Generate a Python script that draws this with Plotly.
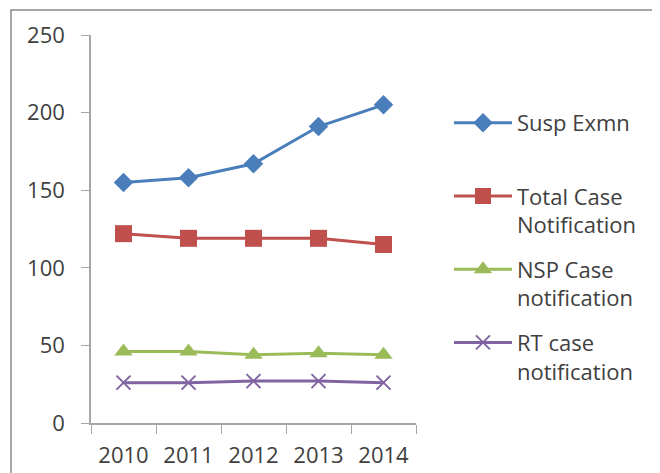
import plotly.graph_objects as go

years = ["2010", "2011", "2012", "2013", "2014"]
susp_exmn = [155, 158, 167, 191, 205]
total_case = [122, 119, 119, 119, 115]
nsp_case = [46, 46, 44, 45, 44]
rt_case = [26, 26, 27, 27, 26]
y_ticks = [0, 50, 100, 150, 200, 250]

series = [
    ("Susp Exmn<br> ", susp_exmn, "#4A7EBB", "diamond", 15),
    ("Total Case<br>Notification", total_case, "#C0504D", "square", 17),
    ("NSP Case<br>notification", nsp_case, "#9BBB59", "triangle-up", 16),
    ("RT case<br>notification", rt_case, "#8064A2", "x-thin", 14),
]

fig = go.Figure()
for i, (name, vals, col, sym, sz) in enumerate(series):
    marker = dict(symbol=sym, size=sz, color=col)
    if sym == "x-thin":
        marker["line"] = dict(color=col, width=2)
    fig.add_trace(go.Scatter(
        x=years, y=vals, name=name, mode="lines+markers",
        line=dict(color=col, width=3), marker=marker,
        legendgroup=str(i),
    ))

# page has an 8px body margin; figure is sized to fit the window
W, H = 652, 465
L, T = 83, 27
pw, ph = 325, 388
R, B = W - L - pw, H - T - ph


def px(x):  # page x -> paper
    return (x - 8 - L) / pw


def py(y):  # page y -> paper
    return (8 + T + ph - y) / ph


fig.add_shape(type="rect", xref="paper", yref="paper",
              x0=px(11), x1=px(700), y0=py(500), y1=py(10),
              line=dict(color="#8a8a8a", width=1.5), layer="below")

fig.update_layout(
    width=W, height=H,
    margin=dict(l=L, r=R, t=T, b=B, autoexpand=False),
    paper_bgcolor="white", plot_bgcolor="white",
    font=dict(family="Open Sans", size=22, color="#404040"),
    showlegend=True,
    legend=dict(x=px(449), y=py(102), xanchor="left", yanchor="top",
                valign="top", tracegroupgap=13, itemwidth=58,
                font=dict(size=22, color="#404040"), bgcolor="rgba(0,0,0,0)"),
)
fig.update_xaxes(type="category", range=[-0.5, 4.5], tickson="boundaries",
                 ticks="outside", ticklen=9, tickcolor="#a6a6a6",
                 showline=True, linecolor="#a6a6a6", linewidth=1.5,
                 showgrid=False, zeroline=False, ticklabelstandoff=12,
                 automargin=False)
fig.update_yaxes(range=[0, 250], tickvals=y_ticks, ticks="outside", ticklen=8,
                 tickcolor="#a6a6a6", showline=True, linecolor="#a6a6a6",
                 linewidth=1.5, showgrid=False, zeroline=False,
                 ticklabelstandoff=12, automargin=False)

fig.write_html("out.html")
